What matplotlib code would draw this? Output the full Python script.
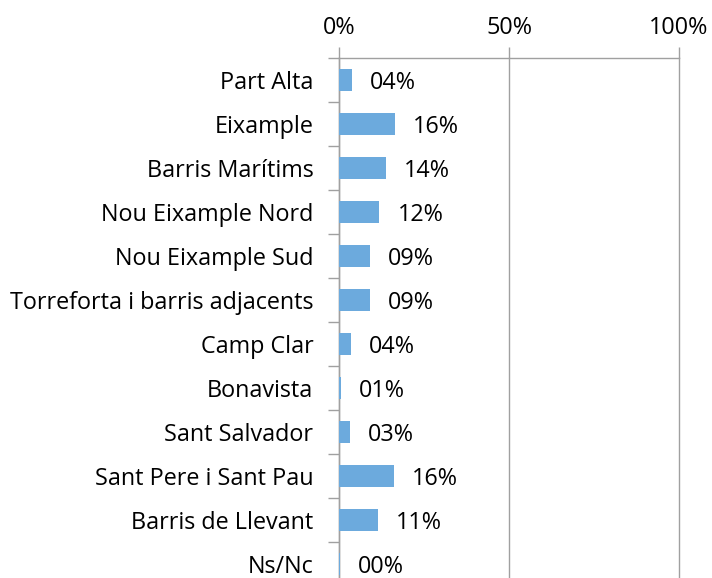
import numpy as np
import matplotlib
matplotlib.use('Agg')
import matplotlib.pyplot as plt
from matplotlib.ticker import FixedLocator

categories = ['Part Alta', 'Eixample', 'Barris Marítims', 'Nou Eixample Nord',
              'Nou Eixample Sud', 'Torreforta i barris adjacents', 'Camp Clar',
              'Bonavista', 'Sant Salvador', 'Sant Pere i Sant Pau',
              'Barris de Llevant', 'Ns/Nc']
values = [3.7, 16.4, 13.9, 11.9, 9.0, 9.2, 3.5, 0.6, 3.1, 16.2, 11.4, 0.2]
x_ticks = [0, 50, 100]

plt.rcParams['font.family'] = ['Open Sans', 'DejaVu Sans']
fs = 16.8

fig = plt.figure(figsize=(7.12, 5.78), dpi=100)
ax = fig.add_axes([339/712, -8/578, 340/712, 528/578])

bar_color = '#6CAADD'
grid_color = '#A0A0A0'
y = np.arange(len(categories))
ax.barh(y, values, height=0.5, color=bar_color, zorder=3)

for yi, v in zip(y, values):
    ax.text(v + 5.3, yi, '%02d%%' % round(v), va='center_baseline', ha='left', fontsize=fs, color='black')

ax.set_xlim(0, 100)
ax.set_ylim(len(categories) - 0.5, -0.5)

ax.xaxis.tick_top()
ax.set_xticks(x_ticks)
ax.set_xticklabels(['%d%%' % t for t in x_ticks], fontsize=fs)
ax.tick_params(axis='x', length=8, width=1, color=grid_color, pad=5)
ax.grid(axis='x', color=grid_color, linewidth=1, zorder=0)
for line in ax.get_xgridlines():
    line.set_clip_on(False)

ax.set_yticks(y)
ax.set_yticklabels(categories, fontsize=fs, va='center_baseline')
ax.yaxis.set_minor_locator(FixedLocator(np.arange(-0.5, len(categories), 1)))
ax.tick_params(axis='y', which='major', length=0, pad=18.5)
ax.tick_params(axis='y', which='minor', length=8, width=1, color=grid_color)

for side in ['right', 'bottom']:
    ax.spines[side].set_visible(False)
for side in ['left', 'top']:
    ax.spines[side].set_color(grid_color)
    ax.spines[side].set_linewidth(1)

fig.savefig('out.png', dpi=100)
